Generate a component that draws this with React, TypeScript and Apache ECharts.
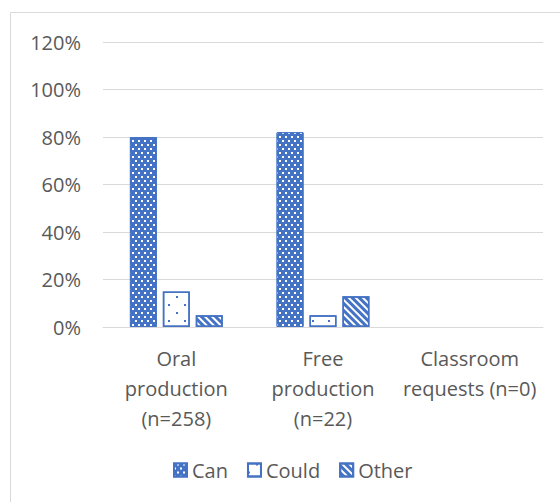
import React, { useEffect, useRef } from "react";
import * as echarts from "echarts";

const categories = ["Oral\nproduction\n(n=258)", "Free\nproduction\n(n=22)", "Classroom\nrequests (n=0)"];
const canValues: (number | null)[] = [80, 82, null];
const couldValues: (number | null)[] = [15, 5, null];
const otherValues: (number | null)[] = [5, 13, null];
const seriesNames = ["Can", "Could", "Other"];

const BLUE = "#4472C4";
const FONT = "'Open Sans', sans-serif";
const TEXT = "#595959";

export default function App() {
  const ref = useRef<HTMLDivElement>(null);
  useEffect(() => {
    if (!ref.current) return;
    const chart = echarts.init(ref.current, null, { renderer: "svg" });
    const canStyle = {
      color: BLUE,
      borderColor: BLUE,
      borderWidth: 1,
      decal: {
        symbol: "rect",
        symbolSize: 1,
        color: "#ffffff",
        dashArrayX: [[2, 4], [0, 3, 2, 1]],
        dashArrayY: [2, 2],
      },
    };
    const couldStyle = {
      color: "#ffffff",
      borderColor: BLUE,
      borderWidth: 1.5,
      decal: {
        symbol: "rect",
        symbolSize: 1,
        color: BLUE,
        dashArrayX: [[2, 14], [0, 8, 2, 6]],
        dashArrayY: [2, 6],
      },
    };
    const otherStyle = {
      color: "#ffffff",
      borderColor: BLUE,
      borderWidth: 1.5,
      decal: {
        symbol: "rect",
        symbolSize: 1,
        color: BLUE,
        dashArrayX: [1, 0],
        dashArrayY: [3, 2],
        rotation: Math.PI / 4,
      },
    };
    chart.setOption({
      animation: false,
      textStyle: { fontFamily: FONT },
      graphic: [
        {
          type: "rect",
          shape: { x: 10.5, y: 12.5, width: 600, height: 520 },
          style: { fill: "none", stroke: "#d9d9d9", lineWidth: 1 },
          silent: true,
        },
      ],
      grid: { left: 103, right: 17, top: 42, bottom: 175, containLabel: false },
      legend: {
        left: 168,
        top: 455,
        itemWidth: 13,
        itemHeight: 13,
        itemGap: 19,
        icon: "rect",
        textStyle: { color: TEXT, fontSize: 20, fontFamily: FONT },
        data: seriesNames,
      },
      xAxis: {
        type: "category",
        data: categories,
        axisLine: { lineStyle: { color: "#d9d9d9", width: 1 } },
        axisTick: { show: false },
        axisLabel: {
          color: TEXT,
          fontSize: 20,
          fontFamily: FONT,
          lineHeight: 30,
          margin: 16,
          interval: 0,
        },
      },
      yAxis: {
        type: "value",
        min: 0,
        max: 120,
        interval: 20,
        axisLine: { show: false },
        axisTick: { show: false },
        splitLine: { lineStyle: { color: "#d9d9d9", width: 1 } },
        axisLabel: {
          color: TEXT,
          fontSize: 20,
          fontFamily: FONT,
          margin: 22,
          formatter: "{value}%",
        },
      },
      series: [
        { name: seriesNames[0], type: "bar", data: canValues, barWidth: 27, barGap: "22%", itemStyle: canStyle },
        { name: seriesNames[1], type: "bar", data: couldValues, barWidth: 27, barGap: "22%", itemStyle: couldStyle },
        { name: seriesNames[2], type: "bar", data: otherValues, barWidth: 27, barGap: "22%", itemStyle: otherStyle },
      ],
    });
    return () => chart.dispose();
  }, []);
  return <div ref={ref} style={{ width: 560, height: 502, position: "absolute", left: 0, top: 0 }} />;
}
